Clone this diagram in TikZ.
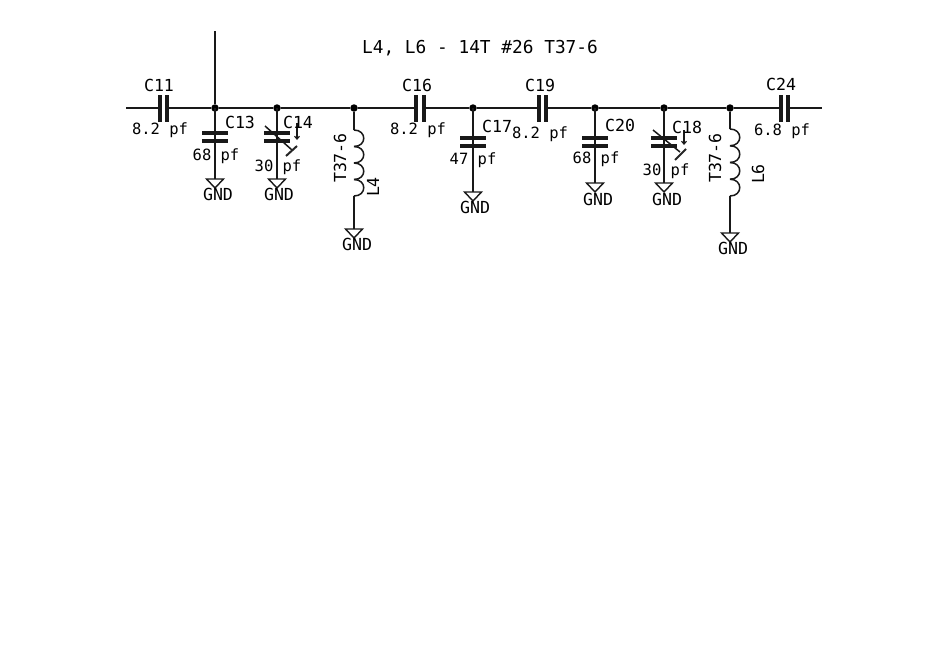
\documentclass[tikz,border=0pt]{standalone}
\usepackage{fontspec}
\setmonofont{DejaVu Sans Mono}
\usetikzlibrary{arrows.meta}
\newcommand{\labfont}{\ttfamily\fontsize{15.5}{16}\selectfont}
\newcommand{\reffont}{\ttfamily\fontsize{16.6}{17}\selectfont}
\newcommand{\titlefont}{\ttfamily\fontsize{17.8}{18}\selectfont}
\tikzset{
  x=1pt,y=-1pt,
  wire/.style={line width=1.5pt,black!90},
  plate/.style={line width=3.6pt,black!90},
  thin wire/.style={line width=2pt,black!85},
  dot/.style={circle,fill=black,inner sep=0pt,minimum size=7.5pt},
  lab/.style={inner sep=0pt,font=\labfont,text=black},
  reflab/.style={inner sep=0pt,font=\reffont,text=black},
  vlab/.style={reflab,rotate=90},
  gnd/.style={line width=1.4pt,black!90,line join=miter},
  small arrow/.style={line width=1.1pt,black!90,-{Straight Barb[length=3pt,width=5pt]}}
}
% #1 x, #2 top y, #3 height of one turn
\newcommand{\coil}[3]{
  \foreach \k in {0,1,2,3}{
    \pgfmathsetmacro{\ya}{#2+\k*#3}
    \pgfmathsetmacro{\yb}{#2+(\k+1)*#3}
    \draw[wire] (#1,\ya) .. controls (#1+13,\ya) and (#1+13,\yb) .. (#1,\yb);
  }
}
\begin{document}
\begin{tikzpicture}
\useasboundingbox[fill=white] (0,0) rectangle (950,659);

% junctions
\node[dot] (j1) at (215,108) {};
\node[dot] (j2) at (277,108) {};
\node[dot] (j3) at (354,108) {};
\node[dot] (j4) at (473,108) {};
\node[dot] (j5) at (595,108) {};
\node[dot] (j6) at (664,108) {};
\node[dot] (j7) at (730,108) {};
\coordinate (left) at (126,108);
\coordinate (right) at (822,108);
\coordinate (top) at (215,31);

% series capacitor plates
\coordinate (c11a) at (160,108); \coordinate (c11b) at (167,108);
\coordinate (c16a) at (416,108); \coordinate (c16b) at (424,108);
\coordinate (c19a) at (539,108); \coordinate (c19b) at (546,108);
\coordinate (c24a) at (781,108); \coordinate (c24b) at (788,108);

\draw[wire] (left) -- (c11a);
\draw[wire] (c11b) -- (j1);
\draw[wire] (top) -- (j1);
\draw[wire] (j1) -- (j2);
\draw[wire] (j2) -- (j3);
\draw[wire] (j3) -- (c16a);
\draw[wire] (c16b) -- (j4);
\draw[wire] (j4) -- (c19a);
\draw[wire] (c19b) -- (j5);
\draw[wire] (j5) -- (j6);
\draw[wire] (j6) -- (j7);
\draw[wire] (j7) -- (c24a);
\draw[wire] (c24b) -- (right);

\foreach \n/\x in {c11a/160,c11b/167,c16a/416,c16b/424,c19a/539,c19b/546,c24a/781,c24b/788}
  \draw[plate] (\x,95) -- (\x,122);

% shunt capacitors and ground symbols: name/x/plate1/plate2/triangle top
\foreach \n/\x/\pa/\pb/\gt in {a/215/133/141/179,b/277/133/141/179,c/473/138/146/192,d/595/138/146/183,e/664/138/146/183}{
  \coordinate (g\n) at (\x,\gt);
  \coordinate (j\n) at (\x,108);
  \draw[wire] (j\n) -- (g\n);
  \draw[plate] (\x-13,\pa) -- (\x+13,\pa);
  \draw[plate] (\x-13,\pb) -- (\x+13,\pb);
  \draw[gnd] (g\n) +(-8.5,0) -- +(8.5,0) -- +(0,9) -- cycle;
}

% inductors
\coordinate (l4a) at (354,130); \coordinate (l4b) at (354,196); \coordinate (g4) at (354,229);
\coordinate (l6a) at (730,129); \coordinate (l6b) at (730,196); \coordinate (g6) at (730,233);
\draw[wire] (j3) -- (l4a);
\coil{354}{130}{16.5}
\draw[wire] (l4b) -- (g4);
\draw[gnd] (g4) +(-8.5,0) -- +(8.5,0) -- +(0,9) -- cycle;
\draw[wire] (j7) -- (l6a);
\coil{730}{129}{16.75}
\draw[wire] (l6b) -- (g6);
\draw[gnd] (g6) +(-8.5,0) -- +(8.5,0) -- +(0,9) -- cycle;

% trimmer marks C14
\coordinate (t14a) at (265,126); \coordinate (t14b) at (292,150);
\coordinate (t14c) at (286,156); \coordinate (t14d) at (297,146);
\coordinate (t14e) at (297,123); \coordinate (t14f) at (297,140);
\draw[wire] (t14a) -- (t14b);
\draw[thin wire] (t14c) -- (t14d);
\draw[small arrow] (t14e) -- (t14f);
% trimmer marks C18
\coordinate (t18a) at (653,130); \coordinate (t18b) at (680,152);
\coordinate (t18c) at (675,160); \coordinate (t18d) at (686,149);
\coordinate (t18e) at (684,130); \coordinate (t18f) at (684,145);
\draw[wire] (t18a) -- (t18b);
\draw[thin wire] (t18c) -- (t18d);
\draw[small arrow] (t18e) -- (t18f);

% labels
\node[inner sep=0pt,font=\titlefont,text=black] (title) at (480,48) {L4, L6 - 14T \#26 T37-6};
\node[reflab] (lc11) at (159,85) {C11};
\node[lab] (v11) at (160,130) {8.2 pf};
\node[reflab] (lc13) at (240,122) {C13};
\node[lab] (v13) at (216,156) {68 pf};
\node[reflab] (lc14) at (298,122) {C14};
\node[lab] (v14) at (278,167) {30 pf};
\node[reflab] (lc16) at (417,85) {C16};
\node[lab] (v16) at (418,130) {8.2 pf};
\node[reflab] (lc17) at (497,126) {C17};
\node[lab] (v17) at (473,160) {47 pf};
\node[reflab] (lc19) at (540,85) {C19};
\node[lab] (v19) at (540,134) {8.2 pf};
\node[reflab] (lc20) at (620,125) {C20};
\node[lab] (v20) at (596,159) {68 pf};
\node[reflab] (lc18) at (687,127) {C18};
\node[lab] (v18) at (666,171) {30 pf};
\node[reflab] (lc24) at (781,84) {C24};
\node[lab] (v24) at (782,131) {6.8 pf};
\node[vlab] (t4) at (340,158) {T37-6};
\node[vlab] (l4) at (373,187) {L4};
\node[vlab] (t6) at (715,158) {T37-6};
\node[vlab] (l6) at (758,174) {L6};
\node[reflab] (g1t) at (218,194) {GND};
\node[reflab] (g2t) at (279,194) {GND};
\node[reflab] (g3t) at (357,244) {GND};
\node[reflab] (g4t) at (475,207) {GND};
\node[reflab] (g5t) at (598,199) {GND};
\node[reflab] (g6t) at (667,199) {GND};
\node[reflab] (g7t) at (733,248) {GND};
\end{tikzpicture}
\end{document}
